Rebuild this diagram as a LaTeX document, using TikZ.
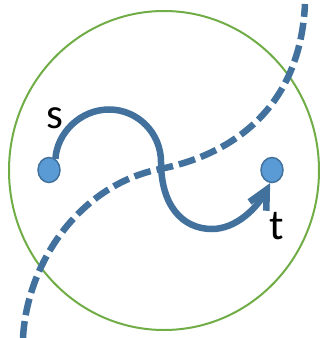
\documentclass[tikz,border=0pt]{standalone}
\usepackage{fontspec}
\setmainfont{Carlito}
\usetikzlibrary{arrows.meta,shapes.geometric}
\definecolor{ringgreen}{RGB}{112,173,71}
\definecolor{dotfill}{RGB}{91,155,213}
\definecolor{pathblue}{RGB}{65,113,156}
\tikzset{
  dot/.style={ellipse, draw=pathblue, line width=1.5pt, fill=dotfill, minimum width=22pt, minimum height=25pt, inner sep=0pt},
  lbl/.style={font=\fontsize{43}{43}\selectfont, inner sep=0pt},
  route/.style={draw=pathblue, line width=6.5pt},
  cutline/.style={draw=pathblue, line width=6.5pt, dash pattern=on 17pt off 6pt},
}
\begin{document}
\begin{tikzpicture}[x=1pt,y=-1pt]
\useasboundingbox (0,0) rectangle (323,338);
\draw[ringgreen, line width=2pt] (164,170.5) ellipse [x radius=155, y radius=159.5];
\coordinate (c0) at (23,338);
\coordinate (c1) at (160,169);
\coordinate (c2) at (305,4);
\path[cutline] (c0) .. controls (27,262) and (80,185) .. (c1) .. controls (230,155) and (300,110) .. (c2);
\node[dot] (s) at (49,170) {};
\node[dot] (t) at (272,170) {};
\node[lbl] (ls) at (55,118) {s};
\node[lbl] (lt) at (277,226) {t};
\path[route, -{Straight Barb[length=19pt,width=19pt]}] (s.60) .. controls (57,133) and (80.3,109.5) .. (109,109.5)
  .. controls (137.7,109.5) and (161,133) .. (161,162)
  .. controls (161,205) and (182,229) .. (212,229)
  .. controls (236,229) and (257,208) .. (t.262);
\end{tikzpicture}
\end{document}
